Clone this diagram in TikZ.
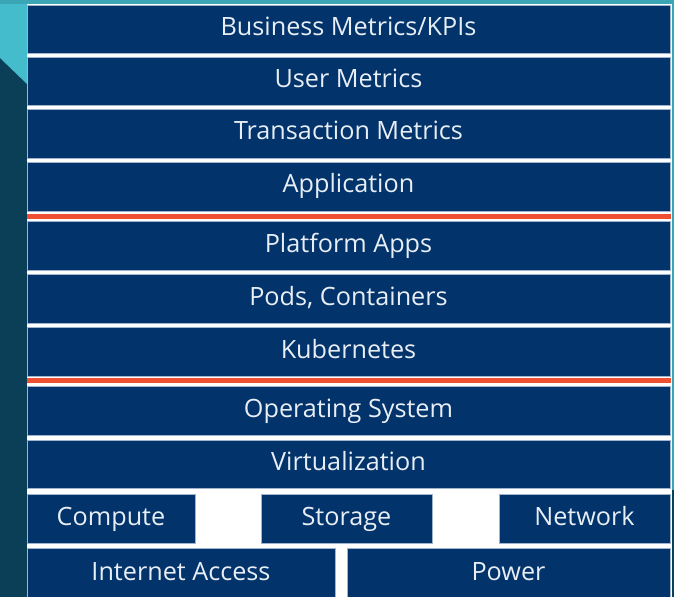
\documentclass[tikz,border=0pt]{standalone}
\usepackage{fontspec}
\setmainfont{Open Sans}
\definecolor{navy}{RGB}{2,51,106}
\definecolor{edgeblue}{RGB}{160,180,205}
\definecolor{boxtext}{RGB}{232,238,245}
\definecolor{deepteal}{RGB}{11,63,87}
\definecolor{lightteal}{RGB}{69,188,203}
\definecolor{topteal}{RGB}{58,165,180}
\definecolor{sepred}{RGB}{240,80,50}
\tikzset{
  layer/.style={draw=edgeblue, line width=0.8bp, fill=navy, text=boxtext,
    inner sep=0pt, text height=18bp, text depth=5bp,
    font=\fontsize{25.3}{28}\selectfont},
}
\begin{document}
\begin{tikzpicture}[x=1bp, y=-1bp]
  % canvas
  \useasboundingbox (0,0) rectangle (674,597);
  \fill[white] (0,0) rectangle (674,597);
  % side and top bands
  \fill[deepteal] (0,0) rectangle (27,597);
  \fill[lightteal] (0,0) -- (27,0) -- (27,84) -- (0,58) -- cycle;
  \fill[topteal] (0,0) rectangle (674,4);
  \fill[topteal] (672,0) rectangle (674,490);
  \fill[deepteal] (672,490) rectangle (674,597);

  % full-width layers: x 27..670
  \foreach \nm/\top/\bot/\txt in {
      kpi/5/53/{Business Metrics/KPIs},
      user/57/105/{User Metrics},
      trans/109/158/{Transaction Metrics},
      app/162/211/{Application},
      plat/221/270/{Platform Apps},
      pods/274/323/{Pods, Containers},
      kube/327/376/{Kubernetes},
      os/386/435/{Operating System},
      virt/440/488/{Virtualization}}
  {
    \node[layer, minimum width=643bp, minimum height={(\bot-\top)*1bp}]
      (\nm) at (348.5,{(\top+\bot)/2}) {\txt};
  }

  % red separators
  \fill[sepred] (27,214) rectangle (671,218.5);
  \fill[sepred] (27,378) rectangle (671,382.5);

  % resource row
  \node[layer, minimum width=168bp, minimum height=49bp] (compute) at (111,518.5) {Compute};
  \node[layer, minimum width=171bp, minimum height=49bp] (storage) at (346.5,518.5) {Storage};
  \node[layer, minimum width=171bp, minimum height=49bp] (network) at (584.5,518.5) {Network};

  % bottom row
  \node[layer, minimum width=308bp, minimum height=52bp] (inet) at (181,574) {Internet Access};
  \node[layer, minimum width=323bp, minimum height=52bp] (power) at (508.5,574) {Power};
\end{tikzpicture}
\end{document}
